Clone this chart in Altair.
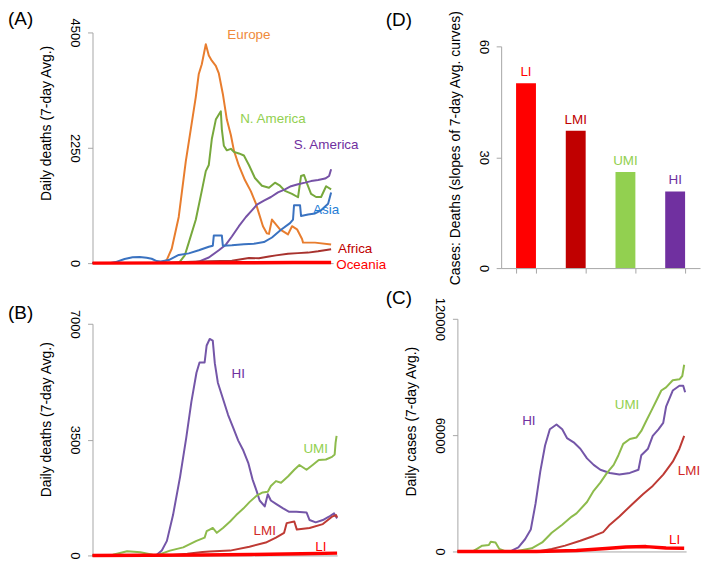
import altair as alt
import pandas as pd

FONT = "Liberation Sans"
GRAY = "#A6A6A6"

# ---------------- Panel A: daily deaths by continent ----------------
a_names = ["Europe", "N. America", "S. America", "Asia", "Africa", "Oceania"]
eu_day = [0, 69, 74, 79, 86, 93, 98, 103, 106, 109, 113, 116, 119, 123, 126, 130, 134, 138, 141, 146,
          152, 158, 163, 166, 170, 174, 176, 179, 187, 195, 199, 204, 209, 210, 222, 238]
eu_val = [0, 0, 60, 280, 900, 1980, 2610, 3240, 3690, 3880, 4270, 4050, 3950, 3850, 3700, 3300, 2800, 2500, 2200, 1900,
          1620, 1400, 1160, 970, 720, 580, 570, 850, 660, 560, 720, 660, 470, 400, 400, 365]
na_day = [0, 86, 92, 96, 103, 109, 113, 116, 119, 123, 126, 128, 129, 131, 134, 138, 141, 146, 151, 156,
          162, 169, 176, 182, 187, 192, 199, 205, 208, 211, 214, 218, 223, 228, 233, 238]
na_val = [0, 0, 150, 400, 845, 1410, 1795, 1915, 2420, 2800, 2900, 2960, 2610, 2290, 2200, 2230, 2170, 2140, 2100, 1915,
          1660, 1510, 1470, 1570, 1510, 1410, 1350, 1285, 1700, 1720, 1550, 1350, 1290, 1290, 1500, 1440]
sa_day = [0, 96, 106, 116, 126, 133, 139, 146, 153, 159, 164, 171, 178, 185, 192, 198, 205, 212, 218, 225, 232, 236, 238]
sa_val = [0, 0, 30, 110, 250, 360, 520, 720, 900, 1030, 1140, 1220, 1290, 1380, 1440, 1500, 1540, 1570, 1600, 1620,
          1650, 1700, 1830]
as_day = [0, 17, 23, 32, 40, 47, 54, 59, 64, 68, 76, 86, 96, 106, 116, 120, 121, 129, 130, 139, 151, 161, 171, 179,
          188, 197, 200, 201, 207, 208, 215, 222, 228, 235, 238]
as_val = [0, 0, 20, 80, 115, 120, 105, 85, 40, 30, 60, 160, 190, 250, 320, 340, 540, 540, 340, 350, 370, 380, 410, 500,
          650, 780, 850, 1130, 1130, 920, 950, 970, 1030, 1160, 1380]
af_day = [0, 57, 86, 106, 116, 139, 156, 166, 176, 183, 195, 205, 215, 225, 238]
af_val = [0, 0, 15, 30, 38, 45, 100, 95, 130, 151, 183, 195, 205, 230, 270]
oc_day = [0, 100, 150, 200, 238]
oc_val = [0, 5, 8, 10, 12]
a_line_colors = ["#E87D2E", "#77A83C", "#7652A6", "#3A72C0", "#A8322E", "#FF0000"]
a_label_colors = ["#EF8A3C", "#92D050", "#7030A0", "#1F7DD6", "#C00000", "#FF0000"]
a_label_day = [156, 180, 233, 233, 262, 268]
a_label_val = [4447, 2816, 2306, 1033, 277, -38]
a_ticks = [0, 2250, 4500]

# ---------------- Panel B: daily deaths by income group ----------------
inc_names = ["HI", "UMI", "LMI", "LI"]
bhi_day = [0, 59, 63, 68, 73, 79, 86, 92, 97, 102, 105, 110, 112, 115, 118, 120, 123, 128, 133, 138, 143, 148, 153,
           157, 161, 164, 169, 172, 175, 180, 187, 193, 200, 210, 213, 219, 226, 232, 237, 240]
bhi_val = [0, 0, 20, 150, 440, 1220, 2390, 3560, 4640, 5520, 5830, 5830, 6345, 6540, 6490, 5810, 5220, 4735, 4250,
           3860, 3470, 3170, 2780, 2300, 1950, 1660, 1480, 1850, 1660, 1560, 1420, 1320, 1320, 1300, 1070, 1000, 1070,
           1170, 1270, 1120]
bumi_day = [0, 20, 34, 47, 59, 63, 76, 89, 102, 110, 112, 115, 118, 122, 128, 135, 141, 148, 154, 161, 167, 172, 175,
            180, 185, 192, 198, 203, 210, 216, 222, 229, 235, 237.6, 238.5, 239.5]
bumi_val = [0, 20, 127, 98, 20, 0, 146, 244, 440, 537, 732, 781, 830, 683, 830, 1025, 1220, 1416, 1611, 1806, 1904,
            1923, 2099, 2246, 2197, 2392, 2588, 2734, 2588, 2734, 2881, 2900, 2978, 3050, 3400, 3610]
blmi_day = [0, 68, 79, 93, 108, 115, 135, 154, 170, 180, 188, 190.5, 198, 200.5, 213, 226, 235, 239, 240]
blmi_val = [0, 0, 10, 50, 107, 120, 146, 263, 390, 537, 683, 976, 1025, 781, 830, 947, 1172, 1220, 1150]
bli_day = [0, 107, 156, 205, 240]
bli_val = [0, 10, 30, 50, 70]
b_label_day = [143, 219, 169, 224]
b_label_val = [5473, 3212, 750, 263]
b_ticks = [0, 3500, 7000]

# ---------------- Panel C: daily cases by income group ----------------
chi_day = [0, 50, 57, 64, 71, 77, 82, 87, 92, 97, 104, 110, 115, 122, 129, 136, 143, 150, 160, 170, 181, 190, 193,
           200, 205, 211, 216, 219, 226, 233, 237, 239]
chi_val = [0, 0, 400, 2150, 6300, 11300, 24650, 41300, 54650, 63000, 65500, 63000, 58500, 56300, 53000, 48000, 44650,
           42150, 40500, 39650, 40500, 42150, 49650, 53000, 59650, 63000, 66300, 74650, 83000, 85500, 85500, 82150]
cumi_day = [0, 16, 21, 26, 33, 35, 40, 44, 50, 63, 78, 89, 99, 110, 120, 125, 136, 143, 150, 157, 164, 169, 174, 181,
            188, 193, 198, 204, 209, 214, 219, 226, 233, 236, 238]
cumi_val = [0, 0, 1500, 3000, 3300, 5000, 4650, 1300, 150, 300, 1650, 4650, 9650, 13800, 18000, 19650, 25500, 31300,
            35500, 40500, 44650, 49650, 55500, 58000, 58800, 62150, 67150, 73000, 78000, 83000, 84650, 88300, 88800,
            90500, 96300]
clmi_day = [0, 84, 99, 113, 129, 143, 153, 160, 170, 184, 195, 205, 216, 226, 233, 238]
clmi_val = [0, 0, 1300, 3000, 5500, 8000, 10000, 13800, 18000, 24650, 29650, 33800, 39650, 46300, 53000, 59650]
cli_day = [0, 83, 125, 156, 177, 198, 219, 238]
cli_val = [0, 0, 500, 1500, 2300, 2500, 1800, 1700]
c_label_day = [75, 178, 243, 228]
c_label_val = [67500, 75500, 41300, 5800]
c_ticks = [0, 60000, 120000]

inc_line_colors = ["#7456A8", "#8DBB4C", "#BE3A34", "#FF0000"]
inc_label_colors = ["#7030A0", "#92D050", "#D02828", "#FF0000"]

# ---------------- Panel D: cases:deaths slope ratio ----------------
d_groups = ["LI", "LMI", "UMI", "HI"]
d_ratio = [50.0, 37.2, 26.0, 20.75]
d_colors = ["#FF0000", "#C00000", "#92D050", "#7030A0"]
d_ticks = [0, 30, 60]


def y_axis(ticks, title, title_y, offset=0):
    kw = dict(values=ticks, format="d", title=title, grid=False, tickSize=5,
              labelAngle=90, labelAlign="center", labelBaseline="top", labelPadding=7,
              titleX=-39, titleY=title_y, titleBaseline="bottom", titleAlign="center",
              domainColor=GRAY, tickColor=GRAY)
    if offset:
        kw["offset"] = offset
    return alt.Axis(**kw)


def tag_layer(tag, tx, ty):
    return alt.Chart(pd.DataFrame({"t": [tag]})).mark_text(
        font=FONT, fontSize=19, align="left", baseline="top", color="#000000"
    ).encode(text="t:N", x=alt.value(tx), y=alt.value(ty))


def line_panel(names, days, vals, line_colors, label_days, label_vals, label_colors,
               ymax, ticks, ytitle, title_y, width, height, tag, tx, ty, thick, y_range=None):
    rows = []
    for n, d, v in zip(names, days, vals):
        for a, b in zip(d, v):
            rows.append({"name": n, "day": a, "value": b})
    df = pd.DataFrame(rows)
    lab = pd.DataFrame({"name": names, "day": label_days, "value": label_vals})
    ys = dict(domain=[0, ymax], nice=False)
    if y_range is not None:
        ys["range"] = y_range
    x = alt.X("day:Q", scale=alt.Scale(domain=[0, 240], nice=False, zero=False),
              axis=alt.Axis(labels=False, ticks=False, title=None, grid=False, domainColor=GRAY))
    y = alt.Y("value:Q", scale=alt.Scale(**ys), axis=y_axis(ticks, ytitle, title_y))
    lines = alt.Chart(df).mark_line(strokeJoin="round").encode(
        x=x, y=y,
        color=alt.Color("name:N", sort=names, scale=alt.Scale(domain=names, range=line_colors), legend=None),
        strokeWidth=alt.condition(f"datum.name == '{thick}'", alt.value(3.5), alt.value(2)),
    )
    texts = alt.Chart(lab).mark_text(font=FONT, fontSize=13.5).encode(
        x=x, y=y, text="name:N",
        color=alt.Color("name:N", scale=alt.Scale(domain=names, range=label_colors), legend=None),
    )
    return alt.layer(lines, texts, tag_layer(tag, tx, ty)).resolve_scale(
        color="independent").properties(width=width, height=height)


panel_a = line_panel(a_names, [eu_day, na_day, sa_day, as_day, af_day, oc_day],
                     [eu_val, na_val, sa_val, as_val, af_val, oc_val], a_line_colors,
                     a_label_day, a_label_val, a_label_colors, 4500, a_ticks,
                     "Daily deaths (7-day Avg.)", 91, 242, 232, "(A)", -85, -23, "Oceania")

panel_b = line_panel(inc_names, [bhi_day, bumi_day, blmi_day, bli_day],
                     [bhi_val, bumi_val, blmi_val, bli_val], inc_line_colors,
                     b_label_day, b_label_val, inc_label_colors, 7000, b_ticks,
                     "Daily deaths (7-day Avg.)", 101, 246, 238, "(B)", -85, -15, "LI",
                     y_range=[238, 5])

panel_c = line_panel(inc_names, [chi_day, cumi_day, clmi_day, cli_day],
                     [chi_val, cumi_val, clmi_val, cli_val], inc_line_colors,
                     c_label_day, c_label_val, inc_label_colors, 120000, c_ticks,
                     "Daily cases (7-day Avg.)", 103, 230, 234, "(C)", -72, -30, "LI")

d_df = pd.DataFrame({"group": d_groups, "ratio": d_ratio})
d_y = alt.Y("ratio:Q", scale=alt.Scale(domain=[0, 60], range=[237, 14], nice=False),
            axis=y_axis(d_ticks, "Cases: Deaths (slopes of 7-day Avg. curves)", 116, offset=-44))
d_base = alt.Chart(d_df).encode(
    x=alt.X("group:N", sort=d_groups,
            scale=alt.Scale(paddingInner=0.6, paddingOuter=0.3, range=[44, 244]),
            axis=alt.Axis(labels=False, title=None, tickBand="extent", tickSize=5,
                          domainColor=GRAY, tickColor=GRAY, grid=False)),
    y=d_y,
    color=alt.Color("group:N", sort=d_groups, scale=alt.Scale(domain=d_groups, range=d_colors), legend=None),
)
panel_d = alt.layer(
    d_base.mark_bar(),
    d_base.mark_text(font=FONT, fontSize=13.5, baseline="bottom", dy=-4).encode(text="group:N"),
    tag_layer("(D)", -72, -21),
).properties(width=245, height=237)

chart = alt.concat(
    panel_a, panel_d, panel_b, panel_c,
    columns=2, align="all", bounds="flush", spacing={"row": 50, "column": 121},
).properties(padding=0).configure_view(stroke=None).configure_axis(
    labelFont=FONT, titleFont=FONT, labelFontSize=13, titleFontSize=14, titleFontWeight="normal",
    labelColor="#000000", titleColor="#000000",
).configure_text(font=FONT)

chart.save("out.html", embed_options={"renderer": "svg", "actions": False})
